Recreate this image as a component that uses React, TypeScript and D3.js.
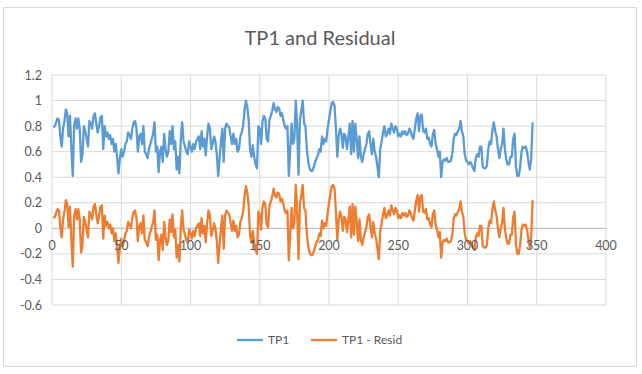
import React from 'react';
import * as d3 from 'd3';

// TP1 values, x = 1..347
const tp1 = [
  0.79, 0.80, 0.83, 0.86, 0.85, 0.72, 0.64, 0.78, 0.84, 0.93,
  0.90, 0.72, 0.88, 0.62, 0.41, 0.80, 0.86, 0.78, 0.86, 0.78,
  0.52, 0.58, 0.80, 0.76, 0.70, 0.64, 0.84, 0.82, 0.78, 0.88,
  0.90, 0.82, 0.75, 0.80, 0.87, 0.88, 0.62, 0.80, 0.72, 0.75,
  0.70, 0.73, 0.66, 0.70, 0.60, 0.66, 0.56, 0.43, 0.55, 0.62,
  0.56, 0.60, 0.66, 0.68, 0.75, 0.73, 0.70, 0.78, 0.83, 0.84,
  0.78, 0.60, 0.72, 0.74, 0.66, 0.80, 0.60, 0.58, 0.55, 0.62,
  0.66, 0.70, 0.74, 0.83, 0.60, 0.64, 0.44, 0.60, 0.64, 0.52,
  0.74, 0.62, 0.56, 0.60, 0.76, 0.66, 0.80, 0.62, 0.68, 0.46,
  0.56, 0.43, 0.70, 0.83, 0.68, 0.64, 0.60, 0.58, 0.68, 0.64,
  0.60, 0.66, 0.62, 0.68, 0.70, 0.72, 0.62, 0.76, 0.64, 0.70,
  0.57, 0.72, 0.82, 0.78, 0.62, 0.66, 0.72, 0.68, 0.58, 0.41,
  0.55, 0.68, 0.78, 0.52, 0.78, 0.82, 0.80, 0.79, 0.72, 0.66,
  0.74, 0.66, 0.70, 0.60, 0.62, 0.72, 0.75, 0.80, 0.92, 1.00,
  0.95, 0.85, 0.62, 0.56, 0.65, 0.56, 0.50, 0.47, 0.80, 0.78,
  0.66, 0.84, 0.88, 0.86, 0.70, 0.68, 0.85, 0.88, 0.92, 0.98,
  0.93, 0.91, 0.95, 0.94, 0.88, 0.90, 0.85, 0.80, 0.78, 0.80,
  0.41, 0.62, 0.82, 0.66, 0.70, 1.00, 0.80, 0.42, 0.85, 0.92,
  1.00, 0.82, 0.80, 0.62, 0.52, 0.47, 0.45, 0.45, 0.48, 0.52,
  0.55, 0.57, 0.62, 0.60, 0.72, 0.66, 0.70, 0.68, 0.78, 0.85,
  0.92, 0.98, 0.99, 0.96, 0.78, 0.56, 0.72, 0.78, 0.74, 0.63,
  0.74, 0.72, 0.62, 0.72, 0.82, 0.58, 0.84, 0.60, 0.82, 0.70,
  0.55, 0.72, 0.56, 0.52, 0.58, 0.62, 0.66, 0.74, 0.76, 0.66,
  0.58, 0.70, 0.60, 0.56, 0.48, 0.40, 0.62, 0.68, 0.75, 0.80,
  0.72, 0.74, 0.78, 0.74, 0.82, 0.78, 0.75, 0.80, 0.78, 0.72,
  0.74, 0.72, 0.76, 0.74, 0.76, 0.73, 0.74, 0.78, 0.76, 0.72,
  0.70, 0.78, 0.86, 0.90, 0.76, 0.88, 0.89, 0.76, 0.75, 0.78,
  0.70, 0.71, 0.66, 0.64, 0.74, 0.77, 0.66, 0.62, 0.56, 0.60,
  0.40, 0.52, 0.54, 0.53, 0.55, 0.52, 0.52, 0.53, 0.58, 0.70,
  0.74, 0.73, 0.76, 0.78, 0.84, 0.76, 0.72, 0.58, 0.53, 0.52,
  0.50, 0.52, 0.50, 0.47, 0.45, 0.55, 0.58, 0.56, 0.64, 0.64,
  0.48, 0.47, 0.47, 0.49, 0.62, 0.68, 0.66, 0.77, 0.83, 0.76,
  0.72, 0.62, 0.55, 0.62, 0.66, 0.78, 0.62, 0.54, 0.50, 0.50,
  0.56, 0.56, 0.70, 0.74, 0.48, 0.41, 0.41, 0.48, 0.60, 0.64,
  0.63, 0.64, 0.60, 0.52, 0.46, 0.55, 0.83,
];

// TP1 - Resid values, x = 1..347
const resid = [
  0.08, 0.09, 0.12, 0.15, 0.14, 0.01, -0.07, 0.07, 0.13, 0.22,
  0.19, 0.01, 0.17, -0.09, -0.30, 0.09, 0.15, 0.07, 0.15, 0.07,
  -0.19, -0.13, 0.09, 0.05, -0.01, -0.07, 0.13, 0.11, 0.07, 0.17,
  0.19, 0.11, 0.04, 0.10, 0.17, 0.18, -0.08, 0.10, 0.02, 0.05,
  0.00, 0.03, -0.04, 0.00, -0.10, -0.04, -0.14, -0.27, -0.15, -0.08,
  -0.14, -0.10, -0.04, -0.02, 0.05, 0.03, 0.00, 0.08, 0.13, 0.14,
  0.08, -0.10, 0.02, 0.04, -0.04, 0.10, -0.09, -0.11, -0.14, -0.07,
  -0.03, 0.01, 0.05, 0.14, -0.09, -0.05, -0.25, -0.09, -0.05, -0.17,
  0.05, -0.07, -0.13, -0.09, 0.07, -0.03, 0.11, -0.07, -0.01, -0.23,
  -0.13, -0.26, 0.01, 0.14, -0.01, -0.05, -0.09, -0.11, -0.01, -0.04,
  -0.08, -0.02, -0.06, 0.00, 0.02, 0.04, -0.06, 0.08, -0.04, 0.02,
  -0.11, 0.04, 0.14, 0.10, -0.06, -0.02, 0.04, 0.00, -0.10, -0.27,
  -0.13, 0.00, 0.10, -0.16, 0.10, 0.14, 0.12, 0.11, 0.04, -0.02,
  0.06, -0.02, 0.02, -0.07, -0.05, 0.05, 0.08, 0.13, 0.25, 0.33,
  0.28, 0.18, -0.05, -0.11, -0.02, -0.11, -0.17, -0.20, 0.13, 0.11,
  -0.01, 0.17, 0.21, 0.19, 0.03, 0.01, 0.18, 0.21, 0.25, 0.31,
  0.26, 0.24, 0.28, 0.27, 0.21, 0.23, 0.19, 0.14, 0.12, 0.14,
  -0.25, -0.04, 0.16, 0.00, 0.04, 0.34, 0.14, -0.24, 0.19, 0.26,
  0.34, 0.16, 0.14, -0.04, -0.14, -0.19, -0.21, -0.21, -0.18, -0.14,
  -0.11, -0.09, -0.04, -0.06, 0.06, 0.00, 0.04, 0.02, 0.12, 0.20,
  0.27, 0.33, 0.34, 0.31, 0.13, -0.09, 0.07, 0.13, 0.09, -0.02,
  0.09, 0.07, -0.03, 0.07, 0.17, -0.07, 0.19, -0.05, 0.17, 0.05,
  -0.10, 0.07, -0.09, -0.13, -0.07, -0.03, 0.01, 0.09, 0.11, 0.01,
  -0.07, 0.05, -0.04, -0.08, -0.16, -0.24, -0.02, 0.04, 0.11, 0.16,
  0.08, 0.10, 0.14, 0.10, 0.18, 0.14, 0.11, 0.16, 0.14, 0.08,
  0.10, 0.08, 0.12, 0.10, 0.12, 0.09, 0.10, 0.14, 0.12, 0.08,
  0.06, 0.14, 0.22, 0.26, 0.13, 0.25, 0.26, 0.13, 0.12, 0.15,
  0.07, 0.08, 0.03, 0.01, 0.11, 0.14, 0.03, -0.01, -0.07, -0.03,
  -0.23, -0.11, -0.09, -0.10, -0.08, -0.11, -0.11, -0.10, -0.05, 0.07,
  0.11, 0.10, 0.13, 0.15, 0.21, 0.13, 0.09, -0.04, -0.09, -0.10,
  -0.12, -0.10, -0.12, -0.15, -0.17, -0.07, -0.04, -0.06, 0.02, 0.02,
  -0.14, -0.15, -0.15, -0.13, 0.00, 0.06, 0.04, 0.15, 0.21, 0.14,
  0.10, 0.00, -0.07, 0.00, 0.04, 0.16, 0.00, -0.08, -0.12, -0.12,
  -0.05, -0.05, 0.09, 0.13, -0.13, -0.20, -0.20, -0.13, -0.01, 0.03,
  0.02, 0.03, -0.01, -0.09, -0.15, -0.06, 0.22,
];

const xTicks = [0, 50, 100, 150, 200, 250, 300, 350, 400];
const yTicks = [-0.6, -0.4, -0.2, 0, 0.2, 0.4, 0.6, 0.8, 1, 1.2];
const seriesNames = ['TP1', 'TP1 - Resid'];
const seriesColors = ['#5B9BD5', '#ED7D31'];

const W = 642;
const H = 374;
const font = 'Lato, "Open Sans", sans-serif';

export default function App() {
  const x = d3.scaleLinear().domain([0, 400]).range([52, 606]);
  const y = d3.scaleLinear().domain([-0.6, 1.2]).range([305, 75]);

  const line = d3.line<number>()
    .x((d, i) => x(i + 1))
    .y(d => y(d));

  const series = [tp1, resid];

  return (
    <svg
      width={W}
      height={H}
      style={{ position: 'absolute', left: 0, top: 0, background: '#fff' }}
    >
      <rect x={3.5} y={7.5} width={633} height={359} fill="#fff" stroke="#d9d9d9" />

      <text x={320} y={45} textAnchor="middle" fontFamily={font} fontSize={20} fill="#595959">
        TP1 and Residual
      </text>

      {/* gridlines */}
      {yTicks.map(t => (
        <line key={'h' + t} x1={x(0)} x2={x(400)} y1={y(t)} y2={y(t)} stroke="#d9d9d9" />
      ))}
      {xTicks.map(t => (
        <line key={'v' + t} x1={x(t)} x2={x(t)} y1={y(1.2)} y2={y(-0.6)} stroke="#d9d9d9" />
      ))}
      <line x1={x(0)} x2={x(400)} y1={y(0)} y2={y(0)} stroke="#bfbfbf" />

      {/* y labels */}
      {yTicks.map(t => (
        <text key={'yl' + t} x={42} y={y(t) + 4.5} textAnchor="end" fontFamily={font} fontSize={12.5} fill="#595959">
          {String(+t.toFixed(1))}
        </text>
      ))}

      {/* lines */}
      {series.map((s, k) => (
        <path key={k} d={line(s) || ''} fill="none" stroke={seriesColors[k]} strokeWidth={2.3} strokeLinejoin="round" />
      ))}

      {/* x labels, drawn on top as in Excel */}
      {xTicks.map(t => (
        <text key={'xl' + t} x={x(t)} y={y(0) + 22} textAnchor="middle" fontFamily={font} fontSize={12.5} fill="#595959">
          {t}
        </text>
      ))}

      {/* legend */}
      {seriesNames.map((n, k) => {
        const lx = k === 0 ? 237 : 311;
        return (
          <g key={n}>
            <line x1={lx} x2={lx + 26} y1={340} y2={340} stroke={seriesColors[k]} strokeWidth={2.3} />
            <text x={lx + 31} y={344} fontFamily={font} fontSize={12} fill="#595959">{n}</text>
          </g>
        );
      })}
    </svg>
  );
}
